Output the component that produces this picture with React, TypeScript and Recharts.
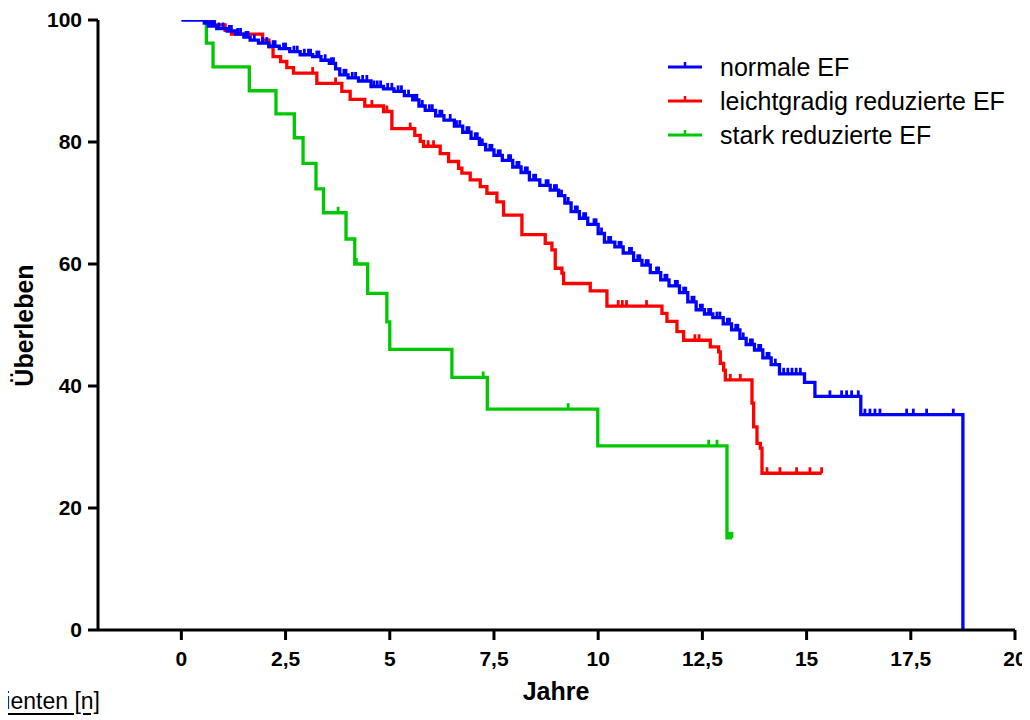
import React from 'react';
import { LineChart, Line, XAxis, YAxis } from 'recharts';

// ---- Data ----
const xTicks = [0, 2.5, 5, 7.5, 10, 12.5, 15, 17.5, 20];
const yTicks = [0, 20, 40, 60, 80, 100];

const seriesNames = ['normale EF', 'leichtgradig reduzierte EF', 'stark reduzierte EF'];
const seriesColors = ['#0000FF', '#FF0000', '#00C800'];

const blueTimes = [0, 0.55, 0.65, 0.85, 1.1, 1.3, 1.5, 1.65, 1.85, 2.1, 2.35, 2.6, 2.85, 3.15, 3.35, 3.55, 3.7, 3.8, 4.0, 4.25, 4.55, 4.85, 5.1, 5.35, 5.55, 5.7, 5.85, 6.1, 6.3, 6.55, 6.75, 6.95, 7.15, 7.3, 7.5, 7.7, 7.95, 8.15, 8.35, 8.6, 8.85, 9.05, 9.2, 9.35, 9.55, 9.75, 10.0, 10.15, 10.4, 10.6, 10.85, 11.05, 11.25, 11.5, 11.7, 11.95, 12.15, 12.35, 12.55, 12.75, 13.0, 13.2, 13.4, 13.55, 13.75, 13.95, 14.15, 14.35, 14.95, 15.2, 16.3, 18.75];
const blueSurv = [100, 99.5, 99.0, 98.6, 98.2, 97.7, 97.2, 96.7, 96.2, 95.7, 95.3, 94.8, 94.3, 94.0, 93.4, 92.9, 92.0, 91.0, 90.5, 90.0, 89.1, 88.7, 88.3, 87.6, 86.9, 85.9, 85.2, 84.3, 83.6, 82.6, 81.6, 80.6, 79.6, 78.7, 77.8, 77.0, 75.9, 75.0, 73.8, 72.9, 72.1, 71.2, 70.0, 68.6, 67.5, 66.5, 65.0, 63.6, 62.8, 61.8, 60.6, 59.8, 58.6, 57.4, 56.4, 55.3, 53.8, 52.5, 51.8, 51.2, 50.2, 49.2, 47.8, 46.8, 45.9, 44.6, 43.5, 42.0, 40.6, 38.3, 35.3, 0];
const blueCensor = [0.58, 0.62, 0.7, 0.75, 0.8, 0.9, 1.0, 1.15, 1.2, 1.35, 1.42, 1.55, 1.6, 1.75, 1.95, 2.05, 2.2, 2.25, 2.45, 2.5, 2.7, 2.78, 2.95, 3.05, 3.1, 3.25, 3.3, 3.45, 3.6, 3.65, 3.9, 3.95, 4.1, 4.18, 4.35, 4.45, 4.62, 4.7, 4.78, 4.95, 5.05, 5.2, 5.28, 5.45, 5.6, 5.65, 5.78, 5.95, 6.02, 6.2, 6.25, 6.45, 6.6, 6.68, 6.85, 6.9, 7.05, 7.1, 7.22, 7.4, 7.45, 7.6, 7.65, 7.85, 7.9, 8.05, 8.1, 8.25, 8.3, 8.45, 8.5, 8.75, 8.8, 8.95, 9.0, 9.12, 9.28, 9.45, 9.5, 9.65, 9.7, 9.9, 9.95, 10.08, 10.25, 10.3, 10.5, 10.55, 10.75, 10.8, 10.95, 11.0, 11.15, 11.2, 11.4, 11.45, 11.6, 11.65, 11.85, 11.9, 12.05, 12.1, 12.25, 12.3, 12.45, 12.5, 12.65, 12.7, 12.85, 12.92, 13.1, 13.15, 13.3, 13.35, 13.48, 13.65, 13.7, 13.85, 13.9, 14.05, 14.1, 14.25, 14.45, 14.55, 14.65, 14.75, 14.85, 15.56, 15.84, 15.96, 16.08, 16.24, 16.4, 16.52, 16.64, 16.76, 17.4, 17.56, 17.88, 18.52];

const redTimes = [0.55, 0.75, 1.05, 1.2, 1.95, 2.1, 2.2, 2.38, 2.53, 2.69, 3.25, 3.85, 4.05, 4.4, 4.85, 5.05, 5.6, 5.73, 5.81, 6.21, 6.41, 6.65, 6.73, 6.93, 7.17, 7.33, 7.57, 7.73, 8.17, 8.73, 8.89, 8.97, 9.13, 9.17, 9.81, 10.21, 11.53, 11.65, 11.89, 12.05, 12.69, 12.89, 12.93, 13.01, 13.05, 13.69, 13.73, 13.81, 13.89, 13.93];
const redSurv = [100, 99.2, 98.3, 97.7, 96.7, 95.6, 94.0, 93.2, 92.2, 91.3, 89.6, 88.3, 87.0, 85.9, 85.0, 82.2, 81.1, 80.1, 79.3, 78.1, 76.8, 75.7, 74.9, 73.8, 72.7, 71.6, 70.2, 68.0, 64.8, 63.4, 62.3, 59.3, 58.5, 56.8, 55.6, 53.1, 51.9, 50.6, 48.9, 47.5, 46.4, 45.6, 43.7, 42.6, 41.0, 37.2, 33.3, 30.6, 29.8, 25.7];
const redCensor = [3.15, 3.7, 4.57, 4.93, 5.49, 5.92, 6.05, 10.48, 10.58, 10.68, 11.16, 12.32, 12.42, 13.17, 13.41, 14.05, 14.36, 14.76, 15.08, 15.36];

const greenTimes = [0.55, 0.6, 0.76, 1.63, 2.27, 2.71, 2.92, 3.23, 3.41, 3.95, 4.16, 4.47, 4.93, 5.0, 6.49, 7.34, 9.99, 13.09];
const greenSurv = [100, 96.2, 92.3, 88.4, 84.6, 80.7, 76.5, 72.3, 68.4, 64.1, 60.0, 55.2, 50.5, 46.0, 41.4, 36.2, 30.2, 15.1];
const greenCensor = [3.76, 4.2, 7.24, 9.28, 12.65, 12.85, 13.15, 13.21];

type Row = { t: number; s: number; c?: boolean };

function buildRows(times: number[], surv: number[], censor: number[]): Row[] {
  const rows: Row[] = times.map((t, i) => ({ t, s: surv[i] }));
  censor.forEach((ct) => {
    let s = surv[0];
    for (let i = 0; i < times.length; i++) if (times[i] <= ct) s = surv[i];
    rows.push({ t: ct, s, c: true });
  });
  rows.sort((a, b) => a.t - b.t || (a.c ? 1 : 0) - (b.c ? 1 : 0));
  return rows;
}

const blueRows = buildRows(blueTimes, blueSurv, blueCensor);
const redRows = buildRows(redTimes, redSurv, redCensor);
const greenRows = buildRows(greenTimes, greenSurv, greenCensor);

const FONT = '"Liberation Sans", Arial, Helvetica, sans-serif';

const tickDot = (color: string) => (props: any) => {
  const { cx, cy, payload, index } = props;
  if (!payload || !payload.c || cx == null || cy == null) return <g key={`n${index}`} />;
  return <line key={`c${index}`} x1={cx} x2={cx} y1={cy} y2={cy - 6} stroke={color} strokeWidth={2.8} />;
};

const fmt = (v: number) => String(v).replace('.', ',');

export default function App() {
  return (
    <div style={{ position: 'relative', width: 1030, height: 720, margin: '-8px 0 0 -8px', overflow: 'hidden', background: '#fff', fontFamily: FONT }}>
      <LineChart width={1030} height={720} margin={{ top: 20, right: 15, bottom: 0, left: 0 }}>
        <XAxis
          type="number"
          dataKey="t"
          domain={[-2, 20]}
          ticks={xTicks}
          allowDataOverflow
          height={90}
          tickSize={10}
          tickMargin={11}
          tickFormatter={fmt}
          axisLine={{ stroke: '#000', strokeWidth: 3 }}
          tickLine={{ stroke: '#000', strokeWidth: 3 }}
          tick={{ fill: '#000', fontSize: 21, fontWeight: 'bold', fontFamily: FONT }}
        />
        <YAxis
          type="number"
          domain={[0, 100]}
          ticks={yTicks}
          allowDataOverflow
          width={98}
          tickSize={10}
          tickMargin={6}
          axisLine={{ stroke: '#000', strokeWidth: 3 }}
          tickLine={{ stroke: '#000', strokeWidth: 3 }}
          tick={{ fill: '#000', fontSize: 21, fontWeight: 'bold', fontFamily: FONT }}
        />
        <Line data={greenRows} dataKey="s" type="stepAfter" stroke={seriesColors[2]} strokeWidth={3.3} dot={tickDot(seriesColors[2])} activeDot={false} isAnimationActive={false} />
        <Line data={redRows} dataKey="s" type="stepAfter" stroke={seriesColors[1]} strokeWidth={3.3} dot={tickDot(seriesColors[1])} activeDot={false} isAnimationActive={false} />
        <Line data={blueRows} dataKey="s" type="stepAfter" stroke={seriesColors[0]} strokeWidth={3.3} dot={tickDot(seriesColors[0])} activeDot={false} isAnimationActive={false} />
      </LineChart>

      {/* Legend */}
      <div style={{ position: 'absolute', left: 660, top: 50, width: 370 }}>
        {seriesNames.map((name, i) => (
          <div key={name} style={{ display: 'flex', alignItems: 'center', height: 34 }}>
            <svg width={60} height={34} style={{ flex: 'none' }}>
              <line x1={8} x2={42} y1={17} y2={17} stroke={seriesColors[i]} strokeWidth={3} />
              <line x1={25} x2={25} y1={17} y2={12} stroke={seriesColors[i]} strokeWidth={2.5} />
            </svg>
            <span style={{ fontSize: 25, color: '#000', whiteSpace: 'nowrap', lineHeight: '34px' }}>{name}</span>
          </div>
        ))}
      </div>

      {/* Axis titles */}
      <div style={{ position: 'absolute', left: 456, top: 679, width: 200, textAlign: 'center', fontSize: 25, fontWeight: 'bold', lineHeight: '25px' }}>Jahre</div>
      <div style={{ position: 'absolute', left: -76, top: 312.5, width: 200, height: 25, textAlign: 'center', fontSize: 25, fontWeight: 'bold', lineHeight: '25px', transform: 'rotate(-90deg)' }}>Überleben</div>
      <div style={{ position: 'absolute', right: 930, top: 690, fontSize: 23, lineHeight: '23px', whiteSpace: 'nowrap', textDecoration: 'underline', textUnderlineOffset: 4 }}>Patienten [n]</div>
    </div>
  );
}
